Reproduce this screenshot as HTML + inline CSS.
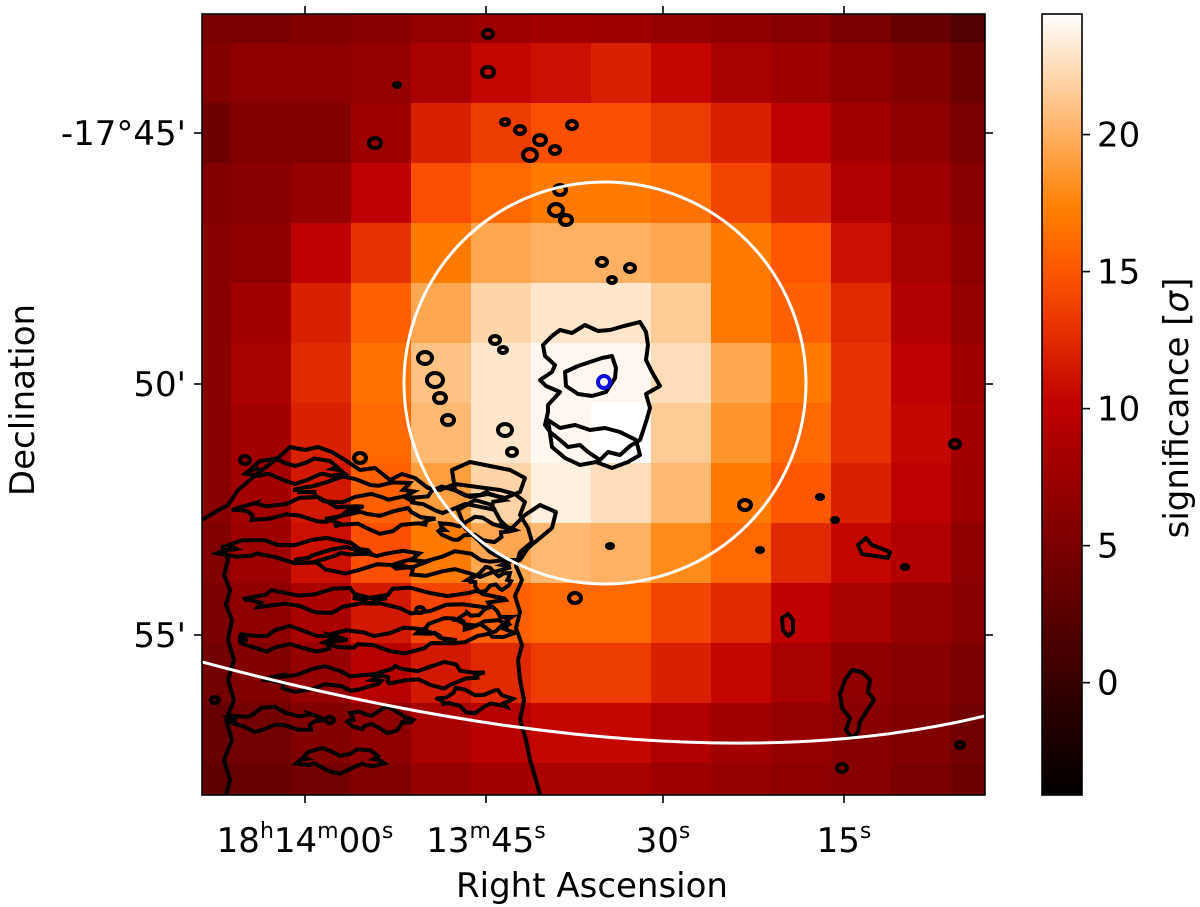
<!DOCTYPE html>
<html><head><meta charset="utf-8">
<style>
html,body{margin:0;padding:0;background:#fff;}
svg{display:block;font-family:"DejaVu Sans","Liberation Sans",sans-serif;}
</style></head>
<body>
<svg id="chart" width="1200" height="907" viewBox="0 0 1200 907" xmlns="http://www.w3.org/2000/svg">
<defs>
<clipPath id="plotclip"><rect x="202" y="14" width="783" height="781"/></clipPath>
<linearGradient id="cbgrad" x1="0" y1="1" x2="0" y2="0"></linearGradient>
</defs>
<g id="heat" clip-path="url(#plotclip)"></g>
<g id="contours" clip-path="url(#plotclip)" fill="none" stroke="#000" stroke-width="4" stroke-linejoin="round">
<path d="M543,345 L552,336 560,330 572,333 585,325 598,331 610,330 624,326 640,322 646,332 648,345 646,360 652,372 660,386 646,394 650,408 646,422 640,440 630,446 620,455 608,452 600,460 588,452 580,445 568,447 560,440 550,432 545,425 548,412 548,405 560,392 546,386 540,380 552,372 555,365 545,356 Z"/>
<path d="M565,372 L578,366 590,362 602,358 612,356 616,368 615,378 606,392 592,396 578,394 566,386 Z"/>
<path d="M548,420 L560,428 575,425 590,430 605,428 620,432 636,440 640,455 628,462 612,468 596,462 580,465 565,458 552,447 Z"/>
<path d="M202,520 L215,512 228,505 238,490 250,480 262,470 278,458 290,447 305,450 318,447 332,452 345,460 360,470 375,468 390,480 402,474 415,478 428,488 440,490 455,484 470,486 485,488 500,490 515,494 525,502 520,515 528,528 532,542 520,552 516,566 522,580 515,596 520,612 516,628 522,645 518,660 520,680 524,700 520,720 526,740 530,760 536,780 540,795"/>
<path d="M452,470 L470,462 490,466 510,470 525,478 520,492 505,498 488,494 470,497 455,490 Z"/>
<path d="M458,510 L475,500 492,505 500,520 510,530 525,515 540,505 556,512 552,528 540,538 528,548 520,560 505,560 490,552 478,540 465,528 Z"/>
<path d="M222,545 L228,560 224,575 230,590 226,605 232,620 228,640 234,660 228,680 234,700 226,720 232,740 224,760 230,780 226,795"/>
<path d="M845,680 L852,670 862,672 870,680 868,692 874,700 866,712 860,722 858,732 852,738 846,730 850,718 842,708 840,694 Z"/>
<path d="M858,545 L866,538 872,545 880,548 890,552 888,558 875,556 862,554 Z"/>
<path d="M782,618 L788,614 793,620 793,632 788,636 783,630 Z"/>
</g>
<g id="wiggles" clip-path="url(#plotclip)" fill="none" stroke="#000" stroke-width="4"></g>
<g id="dots" clip-path="url(#plotclip)" fill="none" stroke="#000" stroke-width="4"></g>
<circle cx="605" cy="383" r="201" fill="none" stroke="#fff" stroke-width="3"/>
<path d="M202,662 Q680,790 985,716" fill="none" stroke="#fff" stroke-width="3" clip-path="url(#plotclip)"/>
<circle cx="604" cy="382" r="6" fill="none" stroke="#1010e0" stroke-width="4"/>
<rect x="202" y="14" width="783" height="781" fill="none" stroke="#000" stroke-width="1.6"/>
<g id="axes" font-size="34" fill="#000"></g>
<text x="592" y="897" font-size="34" text-anchor="middle">Right Ascension</text>
<text transform="translate(34,400) rotate(-90)" font-size="34" text-anchor="middle">Declination</text>
<rect id="cbar" x="1042" y="14" width="40" height="781" fill="url(#cbgrad)" stroke="#000" stroke-width="1.6"/>
<g id="cbticks" font-size="34"></g>
<text transform="translate(1188,408) rotate(-90)" font-size="34" text-anchor="middle">significance [<tspan font-style="italic">σ</tspan>]</text>
</svg>
<script>
const NS = "http://www.w3.org/2000/svg";
const rowLabels = [0,1,2,3,4,5,6,7,8,9,10,11,12,13];
const colLabels = [0,1,2,3,4,5,6,7,8,9,10,11,12,13];
const sigRow0  = [5,5,5.5,6,7,7.5,8,7.5,7,6.5,6,5,3.5,2];
const sigRow1  = [5.5,6.5,6.5,7,8.5,10.5,11,12,10.5,8.5,7.5,6.5,5.5,4];
const sigRow2  = [4,5.5,5.5,7.5,12,13.5,14.5,14.5,13.5,12,10,8,6.5,5];
const sigRow3  = [5.5,6,7,10,14.5,16,17,17,16.5,14,12,9,7.5,6];
const sigRow4  = [6,6.5,10,13,17,19.5,20,20,19.5,17,15,11,8.5,6.5];
const sigRow5  = [6,8,12,15.5,19.5,22,23,23,21.5,17,15.5,12.5,9,7];
const sigRow6  = [6,8.5,12.5,16.5,21,23,24,24,22.5,19.5,17,13,10,7.5];
const sigRow7  = [6,8,12,16,20.5,23,24,24.5,21.5,18.5,16,13,10.5,8];
const sigRow8  = [6,8,11.5,15.5,19,22,23.5,22.5,20.5,17,15,12,10,7.5];
const sigRow9  = [5.5,7.5,11,14.5,17,19.5,20.5,20,18,16,12.5,10.5,9,6.5];
const sigRow10 = [5,6.5,8.5,11.5,14,15.5,16,16,14,12.5,10,8.5,7,6];
const sigRow11 = [4.5,5.5,7,9.5,11.5,12.5,13.5,13.5,12,10.5,8.5,6.5,6,5];
const sigRow12 = [3.5,4.5,5.5,6.5,8.5,9.5,10.5,10.5,9,8,7,6,5.5,4.5];
const sigRow13 = [3,3.5,4.5,5.5,7,8,8.5,8.5,7.5,7,6.5,6,5,4];
const cbTicks = [0,5,10,15,20];
const raTicks = [[["18","h"],["14","m"],["00","s"]],[["13","m"],["45","s"]],[["30","s"]],[["15","s"]]];
const decTicks = ["-17°45'","50'","55'"];
const VMIN = -4.1, VMAX = 24.4;

const grid = [sigRow0,sigRow1,sigRow2,sigRow3,sigRow4,sigRow5,sigRow6,sigRow7,sigRow8,sigRow9,sigRow10,sigRow11,sigRow12,sigRow13];
function colEdge(i){ if(i<=0) return 202; if(i>=14) return 985; return 231+60*(i-1); }
function rowEdge(j){ if(j<=0) return 14; if(j>=14) return 795; return 43+60*(j-1); }
function cmap(v){
  let x=(v-VMIN)/(VMAX-VMIN); x=Math.max(0,Math.min(1,x));
  const r=Math.min(1,1.5*x), g=Math.max(0,Math.min(1,2*x-1)), b=Math.max(0,Math.min(1,4*x-3));
  return `rgb(${Math.round(r*255)},${Math.round(g*255)},${Math.round(b*255)})`;
}
const heat=document.getElementById('heat');
rowLabels.forEach((rj,j)=>{
  colLabels.forEach((ci,i)=>{
    const r=document.createElementNS(NS,'rect');
    
    
    const x0=colEdge(i), x1=colEdge(i+1), y0=rowEdge(j), y1=rowEdge(j+1);
    r.setAttribute('x',x0); r.setAttribute('y',y0);
    r.setAttribute('width',x1-x0+0.5); r.setAttribute('height',y1-y0+0.5);
    r.setAttribute('fill',cmap(grid[j][i]));
    heat.appendChild(r);
  });
});
const grad=document.getElementById('cbgrad');
for(let k=0;k<=20;k++){
  const s=document.createElementNS(NS,'stop');
  s.setAttribute('offset',k/20);
  s.setAttribute('stop-color',cmap(VMIN+(VMAX-VMIN)*k/20));
  grad.appendChild(s);
}
function cbY(v){ return 795-(v-VMIN)/(VMAX-VMIN)*781; }
const cbt=document.getElementById('cbticks');
cbTicks.forEach(v=>{
  const y=cbY(v);
  const l=document.createElementNS(NS,'line');
  
  
  l.setAttribute('x1',1082);l.setAttribute('x2',1090);l.setAttribute('y1',y);l.setAttribute('y2',y);
  l.setAttribute('stroke','#000');l.setAttribute('stroke-width',1.6);
  cbt.appendChild(l);
  const t=document.createElementNS(NS,'text');
  
  
  t.setAttribute('x',1097);t.setAttribute('y',y+12);
  t.textContent=v; cbt.appendChild(t);
});
const axes=document.getElementById('axes');
const raX=[305,486,663,844];
raTicks.forEach((parts,i)=>{
  const x=raX[i];
  [[14,6],[795,803]].forEach(([a,b])=>{
    const l=document.createElementNS(NS,'line');
    
    
    l.setAttribute('x1',x);l.setAttribute('x2',x);l.setAttribute('y1',a);l.setAttribute('y2',b);
    l.setAttribute('stroke','#000');l.setAttribute('stroke-width',1.6);axes.appendChild(l);
  });
  const t=document.createElementNS(NS,'text');
  
  
  t.setAttribute('x',x);t.setAttribute('y',852);t.setAttribute('text-anchor','middle');
  let html='';
  parts.forEach(([num,unit])=>{
    html+='<tspan baseline-shift="0">'+num+'</tspan><tspan font-size="22" baseline-shift="14">'+unit+'</tspan>';
  });
  t.innerHTML=html; axes.appendChild(t);
});
const decY=[133,384,635];
decTicks.forEach((lab,i)=>{
  const y=decY[i];
  [[202,194],[985,993]].forEach(([a,b])=>{
    const l=document.createElementNS(NS,'line');
    
    
    l.setAttribute('x1',a);l.setAttribute('x2',b);l.setAttribute('y1',y);l.setAttribute('y2',y);
    l.setAttribute('stroke','#000');l.setAttribute('stroke-width',1.6);axes.appendChild(l);
  });
  const t=document.createElementNS(NS,'text');
  
  
  t.setAttribute('x',186);t.setAttribute('y',y+12);t.setAttribute('text-anchor','end');
  t.textContent=lab; axes.appendChild(t);
});
const wig=document.getElementById('wiggles');
const loops=[[250,470,90],[300,490,110],[240,510,120],[330,520,100],[410,500,90],[440,530,70],[225,550,140],[300,560,120],[400,565,110],[250,600,130],[360,600,140],[240,640,100],[330,640,120],[420,630,90],[270,680,110],[380,675,100],[440,700,70],[230,720,90],[350,720,60],[300,760,80],[470,580,40],[460,620,50]];
loops.forEach(([x,y,w],k)=>{
  let d='M'+x+','+y;
  for(let s=1;s<=24;s++){
    const ang=s/24*2*Math.PI;
    const rx=w/2*(1+0.15*Math.sin(7*ang+k)), ry=9+5*Math.sin(5*ang+k*2);
    d+=' L'+(x+w/2-Math.cos(ang)*rx).toFixed(1)+','+(y+Math.sin(ang)*ry).toFixed(1);
  }
  const p=document.createElementNS(NS,'path');
  
  
  p.setAttribute('d',d+'Z'); wig.appendChild(p);
});
const dots=document.getElementById('dots');
const spots=[[488,34,4],[488,72,5],[397,85,2],[375,143,5],[505,122,3],[520,130,4],[540,140,5],[530,155,6],[555,150,4],[572,125,4],[560,190,5],[556,210,6],[566,220,5],[602,262,4],[630,268,4],[612,280,3],[425,358,6],[495,340,4],[503,350,3],[435,380,7],[440,398,5],[448,420,5],[505,430,6],[512,452,4],[360,458,5],[575,598,5],[610,546,2],[745,505,5],[820,497,2],[835,520,2],[905,567,2],[955,444,4],[842,768,4],[960,745,3],[760,550,2],[245,460,4],[215,700,3],[330,720,3],[420,610,3]];
spots.forEach(([x,y,r])=>{
  const c=document.createElementNS(NS,'ellipse');
  
  
  c.setAttribute('cx',x);c.setAttribute('cy',y);c.setAttribute('rx',r+1);c.setAttribute('ry',r);
  dots.appendChild(c);
});
</script>
</body></html>
